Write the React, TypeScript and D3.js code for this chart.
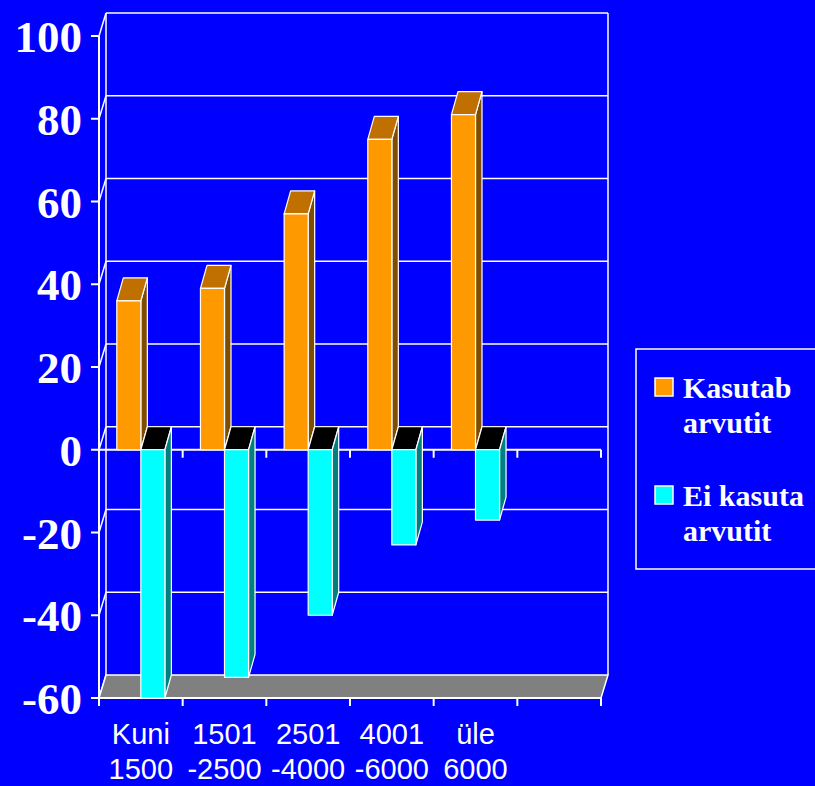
import React, { useEffect, useRef } from 'react';
import * as d3 from 'd3';

// category labels (two lines each), the sixth slot is empty in the original
const categories = ['Kuni 1500', '1501 -2500', '2501 -4000', '4001 -6000', 'üle 6000', ''];
const labelLines = [
  ['Kuni', '1500'],
  ['1501', '-2500'],
  ['2501', '-4000'],
  ['4001', '-6000'],
  ['üle', '6000'],
  ['', ''],
];
const kasutab = [36, 39, 57, 75, 81];
const eiKasuta = [-60, -55, -40, -23, -17];
const yTicks = [100, 80, 60, 40, 20, 0, -20, -40, -60];
const seriesNames = ['Kasutab arvutit', 'Ei kasuta arvutit'];
const legendLines = [
  ['Kasutab', 'arvutit'],
  ['Ei kasuta', 'arvutit'],
];

const W = 815;
const H = 786;

const App = () => {
  const ref = useRef<HTMLDivElement>(null);

  useEffect(() => {
    document.body.style.margin = '0';
    draw(ref.current);
  }, []);

  const draw = (el: HTMLDivElement | null) => {
    if (!el) return;
    d3.select(el).select('svg').remove();

    const svg = d3.select(el)
      .append('svg')
      .attr('width', W)
      .attr('height', H)
      .style('display', 'block');

    svg.append('rect').attr('width', W).attr('height', H).attr('fill', '#0000ff');

    const x = d3.scaleBand<string>().domain(categories).range([99, 601]).padding(0);
    const y = d3.scaleLinear().domain([-60, 100]).range([698, 36]);
    const xs = d3.scaleBand<string>().domain(seriesNames).range([0, x.bandwidth()])
      .paddingInner(0).paddingOuter(0.74);

    // depth of the 3d walls and bars
    const dx = 7, dy = -23;
    const bdx = 6.5, bdy = -23;
    const white = '#ffffff';
    const x0 = x.range()[0], x1 = x.range()[1];
    const yTop = y(100), yBot = y(-60), yZero = y(0);

    const grid = svg.append('g').attr('stroke', white).attr('stroke-width', 1.5).attr('fill', 'none');

    // back wall gridlines + side wall diagonals
    yTicks.filter(t => t > -60).forEach(t => {
      grid.append('line')
        .attr('x1', x0 + dx).attr('x2', x1 + dx)
        .attr('y1', y(t) + dy).attr('y2', y(t) + dy);
    });
    yTicks.forEach(t => {
      grid.append('line')
        .attr('x1', x0).attr('x2', x0 + dx)
        .attr('y1', y(t)).attr('y2', y(t) + dy);
    });
    // wall edges
    grid.append('line').attr('x1', x0 + dx).attr('x2', x0 + dx).attr('y1', yTop + dy).attr('y2', yBot + dy);
    grid.append('line').attr('x1', x1 + dx).attr('x2', x1 + dx).attr('y1', yTop + dy).attr('y2', yBot + dy);

    // floor
    svg.append('polygon')
      .attr('points', [[x0, yBot], [x1, yBot], [x1 + dx, yBot + dy], [x0 + dx, yBot + dy]].map(p => p.join(',')).join(' '))
      .attr('fill', '#808080')
      .attr('stroke', white)
      .attr('stroke-width', 1.5);

    const axes = svg.append('g').attr('stroke', white).attr('stroke-width', 2).attr('fill', 'none');
    // value axis
    axes.append('line').attr('x1', x0).attr('x2', x0).attr('y1', yTop).attr('y2', yBot);
    yTicks.forEach(t => {
      axes.append('line').attr('x1', x0 - 8).attr('x2', x0).attr('y1', y(t)).attr('y2', y(t));
    });
    // category axis at the bottom and at zero
    const bounds = categories.map(c => x(c) as number).concat([x1]);
    [yBot, yZero].forEach(yy => {
      axes.append('line').attr('x1', x0).attr('x2', x1).attr('y1', yy).attr('y2', yy);
      bounds.forEach(b => {
        axes.append('line').attr('x1', b).attr('x2', b).attr('y1', yy).attr('y2', yy + 8);
      });
    });

    // bars
    const poly = (pts: number[][], fill: string) => {
      svg.append('polygon')
        .attr('points', pts.map(p => p.join(',')).join(' '))
        .attr('fill', fill)
        .attr('stroke', white)
        .attr('stroke-width', 1.2)
        .attr('stroke-linejoin', 'round');
    };

    const bw = xs.bandwidth();
    kasutab.forEach((v, i) => {
      const c = categories[i];
      // orange column
      const l = (x(c) as number) + (xs(seriesNames[0]) as number);
      const r = l + bw;
      const t = y(v);
      poly([[r, t], [r + bdx, t + bdy], [r + bdx, yZero + bdy], [r, yZero]], '#804c00');
      poly([[l, t], [l + bdx, t + bdy], [r + bdx, t + bdy], [r, t]], '#c07000');
      poly([[l, t], [r, t], [r, yZero], [l, yZero]], '#ff9900');

      // cyan column
      const v2 = eiKasuta[i];
      const l2 = (x(c) as number) + (xs(seriesNames[1]) as number);
      const r2 = l2 + bw;
      const b2 = y(v2);
      poly([[l2, yZero], [l2 + bdx, yZero + bdy], [r2 + bdx, yZero + bdy], [r2, yZero]], '#000000');
      poly([[r2, yZero], [r2 + bdx, yZero + bdy], [r2 + bdx, b2 + bdy], [r2, b2]], '#008080');
      poly([[l2, yZero], [r2, yZero], [r2, b2], [l2, b2]], '#00ffff');
    });

    // value labels
    svg.append('g')
      .selectAll('text')
      .data(yTicks)
      .enter()
      .append('text')
      .attr('x', 82)
      .attr('y', d => y(d) + 16)
      .attr('text-anchor', 'end')
      .attr('font-family', '"Liberation Serif", "Times New Roman", serif')
      .attr('font-weight', 'bold')
      .attr('font-size', 45)
      .attr('fill', white)
      .text(d => `${d}`);

    // category labels
    const cl = svg.append('g')
      .attr('font-family', '"Liberation Sans", Arial, sans-serif')
      .attr('font-size', 29)
      .attr('fill', white)
      .attr('text-anchor', 'middle');
    categories.forEach((c, i) => {
      const cx = (x(c) as number) + x.bandwidth() / 2;
      cl.append('text').attr('x', cx).attr('y', 744).text(labelLines[i][0]);
      cl.append('text').attr('x', cx).attr('y', 779).text(labelLines[i][1]);
    });

    // legend
    const lg = svg.append('g');
    lg.append('rect')
      .attr('x', 636).attr('y', 349).attr('width', 200).attr('height', 220)
      .attr('fill', '#0000ff').attr('stroke', white).attr('stroke-width', 1.5);
    const swatch = ['#ff9900', '#00ffff'];
    const entryTop = [378, 486];
    legendLines.forEach((lines, i) => {
      lg.append('rect')
        .attr('x', 655).attr('y', entryTop[i]).attr('width', 18).attr('height', 18)
        .attr('fill', swatch[i]).attr('stroke', white).attr('stroke-width', 1.5);
      lines.forEach((txt, j) => {
        lg.append('text')
          .attr('x', 683)
          .attr('y', entryTop[i] + 20 + j * 35)
          .attr('font-family', '"Liberation Serif", "Times New Roman", serif')
          .attr('font-weight', 'bold')
          .attr('font-size', 30)
          .attr('fill', white)
          .text(txt);
      });
    });
  };

  return <div ref={ref}></div>;
};

export default App;
